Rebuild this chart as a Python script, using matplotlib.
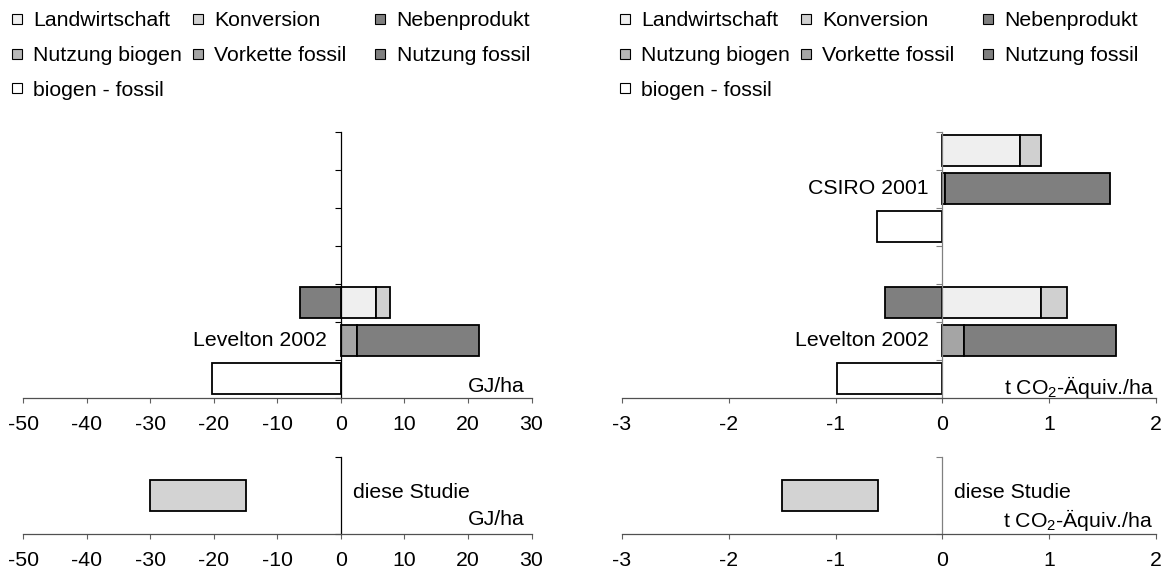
import numpy as np
import matplotlib.pyplot as plt
from matplotlib.lines import Line2D

plt.rcParams['font.family'] = ['Liberation Sans', 'DejaVu Sans']
plt.rcParams['mathtext.fontset'] = 'custom'
plt.rcParams['mathtext.rm'] = 'Liberation Sans'
plt.rcParams['mathtext.default'] = 'regular'
plt.rcParams['axes.unicode_minus'] = False

FS = 15.3

# Zeilen von oben nach unten (je Studie: biogen, fossil, biogen - fossil)
studies = ['CSIRO 2001', 'Levelton 2002']
study_rows = [1, 5]

components = ['Landwirtschaft', 'Konversion', 'Nebenprodukt', 'Nutzung biogen',
              'Vorkette fossil', 'Nutzung fossil', 'biogen - fossil']
colors = ['#efefef', '#d0d0d0', '#7f7f7f', '#b8b8b8', '#a5a5a5', '#7f7f7f', 'white']

# Energie, GJ/ha
gj_landwirtschaft = [0, 0, 0, 0, 5.6, 0, 0]
gj_konversion = [0, 0, 0, 0, 2.1, 0, 0]
gj_nebenprodukt = [0, 0, 0, 0, -6.4, 0, 0]
gj_nutzung_biogen = [0, 0, 0, 0, 0, 0, 0]
gj_vorkette_fossil = [0, 0, 0, 0, 0, 2.6, 0]
gj_nutzung_fossil = [0, 0, 0, 0, 0, 19.1, 0]
gj_differenz = [0, 0, 0, 0, 0, 0, -20.3]

# Treibhausgase, t CO2-Äquiv./ha
co2_landwirtschaft = [0.73, 0, 0, 0, 0.925, 0, 0]
co2_konversion = [0.195, 0, 0, 0, 0.24, 0, 0]
co2_nebenprodukt = [0, 0, 0, 0, -0.54, 0, 0]
co2_nutzung_biogen = [0, 0, 0, 0, 0, 0, 0]
co2_vorkette_fossil = [0, 0.02, 0, 0, 0, 0.2, 0]
co2_nutzung_fossil = [0, 1.545, 0, 0, 0, 1.43, 0]
co2_differenz = [0, 0, -0.61, 0, 0, 0, -0.99]

# diese Studie (Bereich von - bis)
gj_studie = (-30, -15)
co2_studie = (-1.5, -0.6)

gj_series = [gj_landwirtschaft, gj_konversion, gj_nebenprodukt, gj_nutzung_biogen,
             gj_vorkette_fossil, gj_nutzung_fossil, gj_differenz]
co2_series = [co2_landwirtschaft, co2_konversion, co2_nebenprodukt, co2_nutzung_biogen,
              co2_vorkette_fossil, co2_nutzung_fossil, co2_differenz]

W, H = 1163, 574
fig = plt.figure(figsize=(W / 100, H / 100), dpi=100)


def style_axis(ax, xlim, xticks, ycolor, ymax):
    ax.set_xlim(*xlim)
    ax.set_ylim(0, ymax)
    ax.set_xticks(xticks)
    ax.set_xticklabels([str(t) for t in xticks])
    ax.set_yticks([0, ymax] if ymax == 2 else range(ymax + 1))
    for s in ['top', 'right']:
        ax.spines[s].set_visible(False)
    ax.spines['left'].set_position(('data', 0))
    ax.spines['left'].set_color(ycolor)
    ax.spines['left'].set_linewidth(0.9)
    ax.spines['bottom'].set_color('#505050')
    ax.spines['bottom'].set_linewidth(0.9)
    ax.tick_params(axis='y', direction='out', length=4, width=0.8, color=ycolor, labelleft=False)
    ax.tick_params(axis='x', direction='out', length=3.6, width=0.8, color='#606060',
                   pad=9, labelsize=FS)


def draw_top(ax, series, xlim, xticks, unit, unit_dx, ycolor):
    y = 6.5 - np.arange(7)
    pos = np.zeros(7)
    neg = np.zeros(7)
    for vals, col in zip(series, colors):
        v = np.array(vals, dtype=float)
        mp = v > 0
        mn = v < 0
        ax.barh(y[mp], v[mp], left=pos[mp], height=0.82, color=col, edgecolor='black', linewidth=1.3)
        ax.barh(y[mn], v[mn], left=neg[mn], height=0.82, color=col, edgecolor='black', linewidth=1.3)
        pos[mp] += v[mp]
        neg[mn] += v[mn]
    style_axis(ax, xlim, xticks, ycolor, 7)
    for name, r in zip(studies, study_rows):
        if np.any([abs(s[r - 1]) + abs(s[r]) + abs(s[r + 1]) for s in series]):
            ax.annotate(name, xy=(0, y[r]), xytext=(-14, 0), textcoords='offset pixels',
                        ha='right', va='center', fontsize=FS)
    ax.annotate(unit, xy=(1, 0), xycoords='axes fraction', xytext=(unit_dx, 11),
                textcoords='offset pixels', ha='right', va='center', fontsize=FS)


def draw_bottom(ax, rng, xlim, xticks, unit, unit_dx, ycolor):
    ax.barh([1], [rng[1] - rng[0]], left=rng[0], height=0.82, color='#d3d3d3',
            edgecolor='black', linewidth=1.3)
    style_axis(ax, xlim, xticks, ycolor, 2)
    ax.annotate('diese Studie', xy=(0, 0), xytext=(12, 41), textcoords='offset pixels',
                ha='left', va='center', fontsize=FS)
    ax.annotate(unit, xy=(1, 0), xycoords='axes fraction', xytext=(unit_dx, 14),
                textcoords='offset pixels', ha='right', va='center', fontsize=FS)


top_b, top_h = 1 - 397.8 / H, 266.1 / H
bot_b, bot_h = 1 - 533.7 / H, 76.7 / H
left_l, left_w = 23.3 / W, 508.2 / W
right_l, right_w = 622.0 / W, 534.0 / W

ax1 = fig.add_axes([left_l, top_b, left_w, top_h])
ax2 = fig.add_axes([right_l, top_b, right_w, top_h])
ax3 = fig.add_axes([left_l, bot_b, left_w, bot_h])
ax4 = fig.add_axes([right_l, bot_b, right_w, bot_h])

co2_unit = 't CO$_2$-Äquiv./ha'
draw_top(ax1, gj_series, (-50, 30), list(range(-50, 31, 10)), 'GJ/ha', -7, 'black')
draw_top(ax2, co2_series, (-3, 2), list(range(-3, 3)), co2_unit, -2, '#808080')
draw_bottom(ax3, gj_studie, (-50, 30), list(range(-50, 31, 10)), 'GJ/ha', -7, 'black')
draw_bottom(ax4, co2_studie, (-3, 2), list(range(-3, 3)), co2_unit, -3, '#808080')

# Legenden: drei Spalten je Diagramm, kleine Quadrate als Symbole
handles = {c: Line2D([], [], marker='s', markersize=6.5, markerfacecolor=col,
                     markeredgecolor='black', markeredgewidth=0.8, linestyle='none')
           for c, col in zip(components, colors)}
columns = [['Landwirtschaft', 'Nutzung biogen', 'biogen - fossil'],
           ['Konversion', 'Vorkette fossil'],
           ['Nebenprodukt', 'Nutzung fossil']]
for x0 in [12.7, 620.7]:
    for dx, col in zip([0, 180.6, 363.3], columns):
        fig.legend([handles[c] for c in col], col, loc='upper left',
                   bbox_to_anchor=((x0 + dx) / W, 1 - 11.0 / H), frameon=False, fontsize=FS,
                   handlelength=0.42, handletextpad=0.55, labelspacing=0.75,
                   borderpad=0, borderaxespad=0)

fig.savefig('out.png', dpi=100)
